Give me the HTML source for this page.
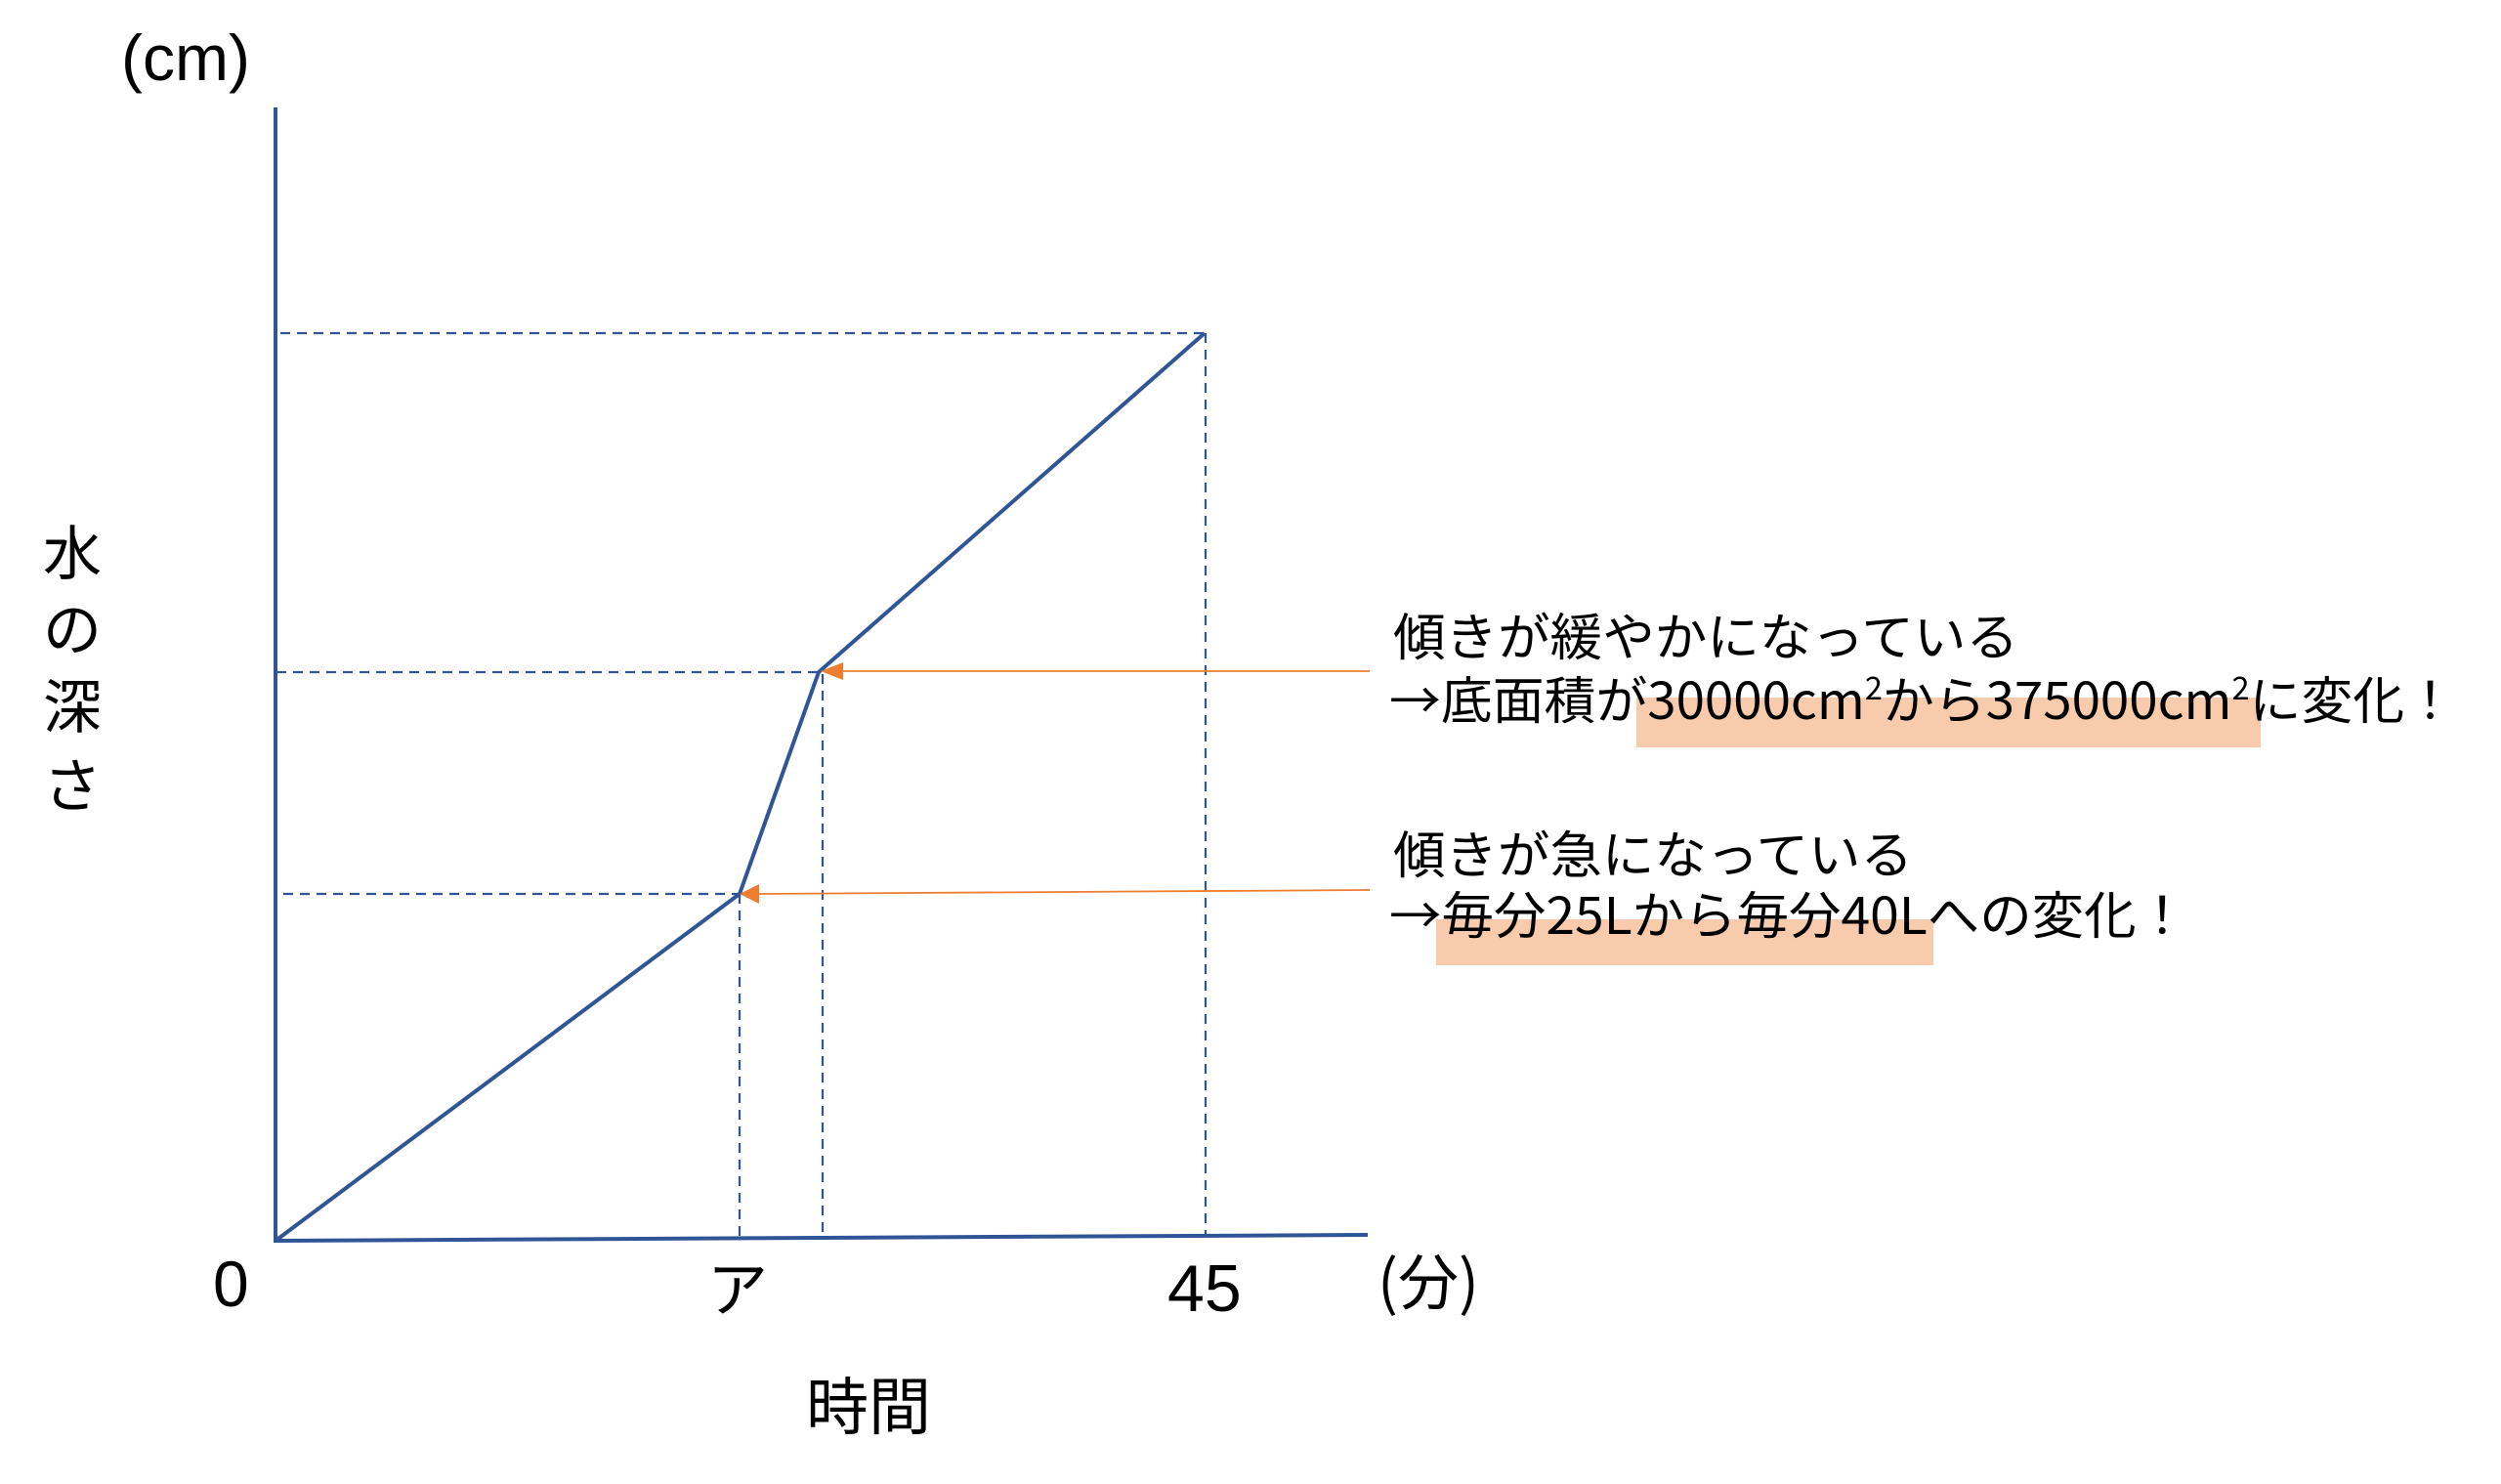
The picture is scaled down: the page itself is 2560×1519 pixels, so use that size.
<!DOCTYPE html>
<html><head><meta charset="utf-8"><style>
html,body{margin:0;padding:0;background:#fff;}
svg{display:block;}
text{font-family:"Liberation Sans","Noto Sans CJK JP",sans-serif;fill:#000;}
.j{font-family:"Noto Sans CJK JP",sans-serif;}
</style></head><body>
<svg width="2560" height="1519" viewBox="0 0 2560 1519" xmlns="http://www.w3.org/2000/svg">
<rect x="1675" y="714" width="639" height="51" fill="#F8CBAD"/>
<rect x="1470" y="941" width="509" height="47" fill="#F8CBAD"/>
<g stroke="#2F5597" stroke-width="2.2" stroke-dasharray="10,7" fill="none">
<line x1="287" y1="341" x2="1233" y2="341"/>
<line x1="283" y1="688" x2="838" y2="688"/>
<line x1="290" y1="915" x2="757" y2="915"/>
<line x1="757" y1="915" x2="757" y2="1268"/>
<line x1="842" y1="690" x2="842" y2="1268"/>
<line x1="1234" y1="341" x2="1234" y2="1266"/>
</g>
<g stroke="#2F5597" stroke-width="4" fill="none">
<line x1="282" y1="110" x2="282" y2="1272"/>
<line x1="282" y1="1270" x2="1400" y2="1264"/>
<polyline points="282,1270 757,915 838,688 1233,341" stroke-linejoin="round"/>
</g>
<g stroke="#ED7D31" stroke-width="1.8">
<line x1="860" y1="687" x2="1402" y2="687"/>
<line x1="776" y1="915" x2="1402" y2="911"/>
</g>
<polygon points="840,687 863,678 863,696" fill="#ED7D31"/>
<polygon points="757,915 777,905 777,925" fill="#ED7D31"/>
<text x="124" y="82" font-size="66">(cm)</text>
<text class="j" x="44" y="588" font-size="60">水</text>
<text class="j" x="44" y="666" font-size="60">の</text>
<text class="j" x="44" y="745" font-size="60">深</text>
<text class="j" x="44" y="826" font-size="60">さ</text>
<text x="218" y="1337" font-size="66">0</text>
<text class="j" x="724" y="1342" font-size="62">ア</text>
<text x="1195" y="1342" font-size="68">45</text>
<text class="j" x="1410" y="1335" font-size="62">(分)</text>
<text class="j" x="825" y="1463" font-size="64">時間</text>
<text class="j" x="1426" y="671" font-size="52" textLength="640" lengthAdjust="spacingAndGlyphs">傾きが緩やかになっている</text>
<text class="j" x="1422" y="736" font-size="52" textLength="1092" lengthAdjust="spacingAndGlyphs">→底面積が30000cm<tspan font-size="32" dy="-20">2</tspan><tspan dy="20">から375000cm</tspan><tspan font-size="32" dy="-20">2</tspan><tspan dy="20">に変化！</tspan></text>
<text class="j" x="1426" y="894" font-size="52" textLength="532" lengthAdjust="spacingAndGlyphs">傾きが急になっている</text>
<text class="j" x="1422" y="956" font-size="52" textLength="818" lengthAdjust="spacingAndGlyphs">→毎分25Lから毎分40Lへの変化！</text>
</svg>
</body></html>
